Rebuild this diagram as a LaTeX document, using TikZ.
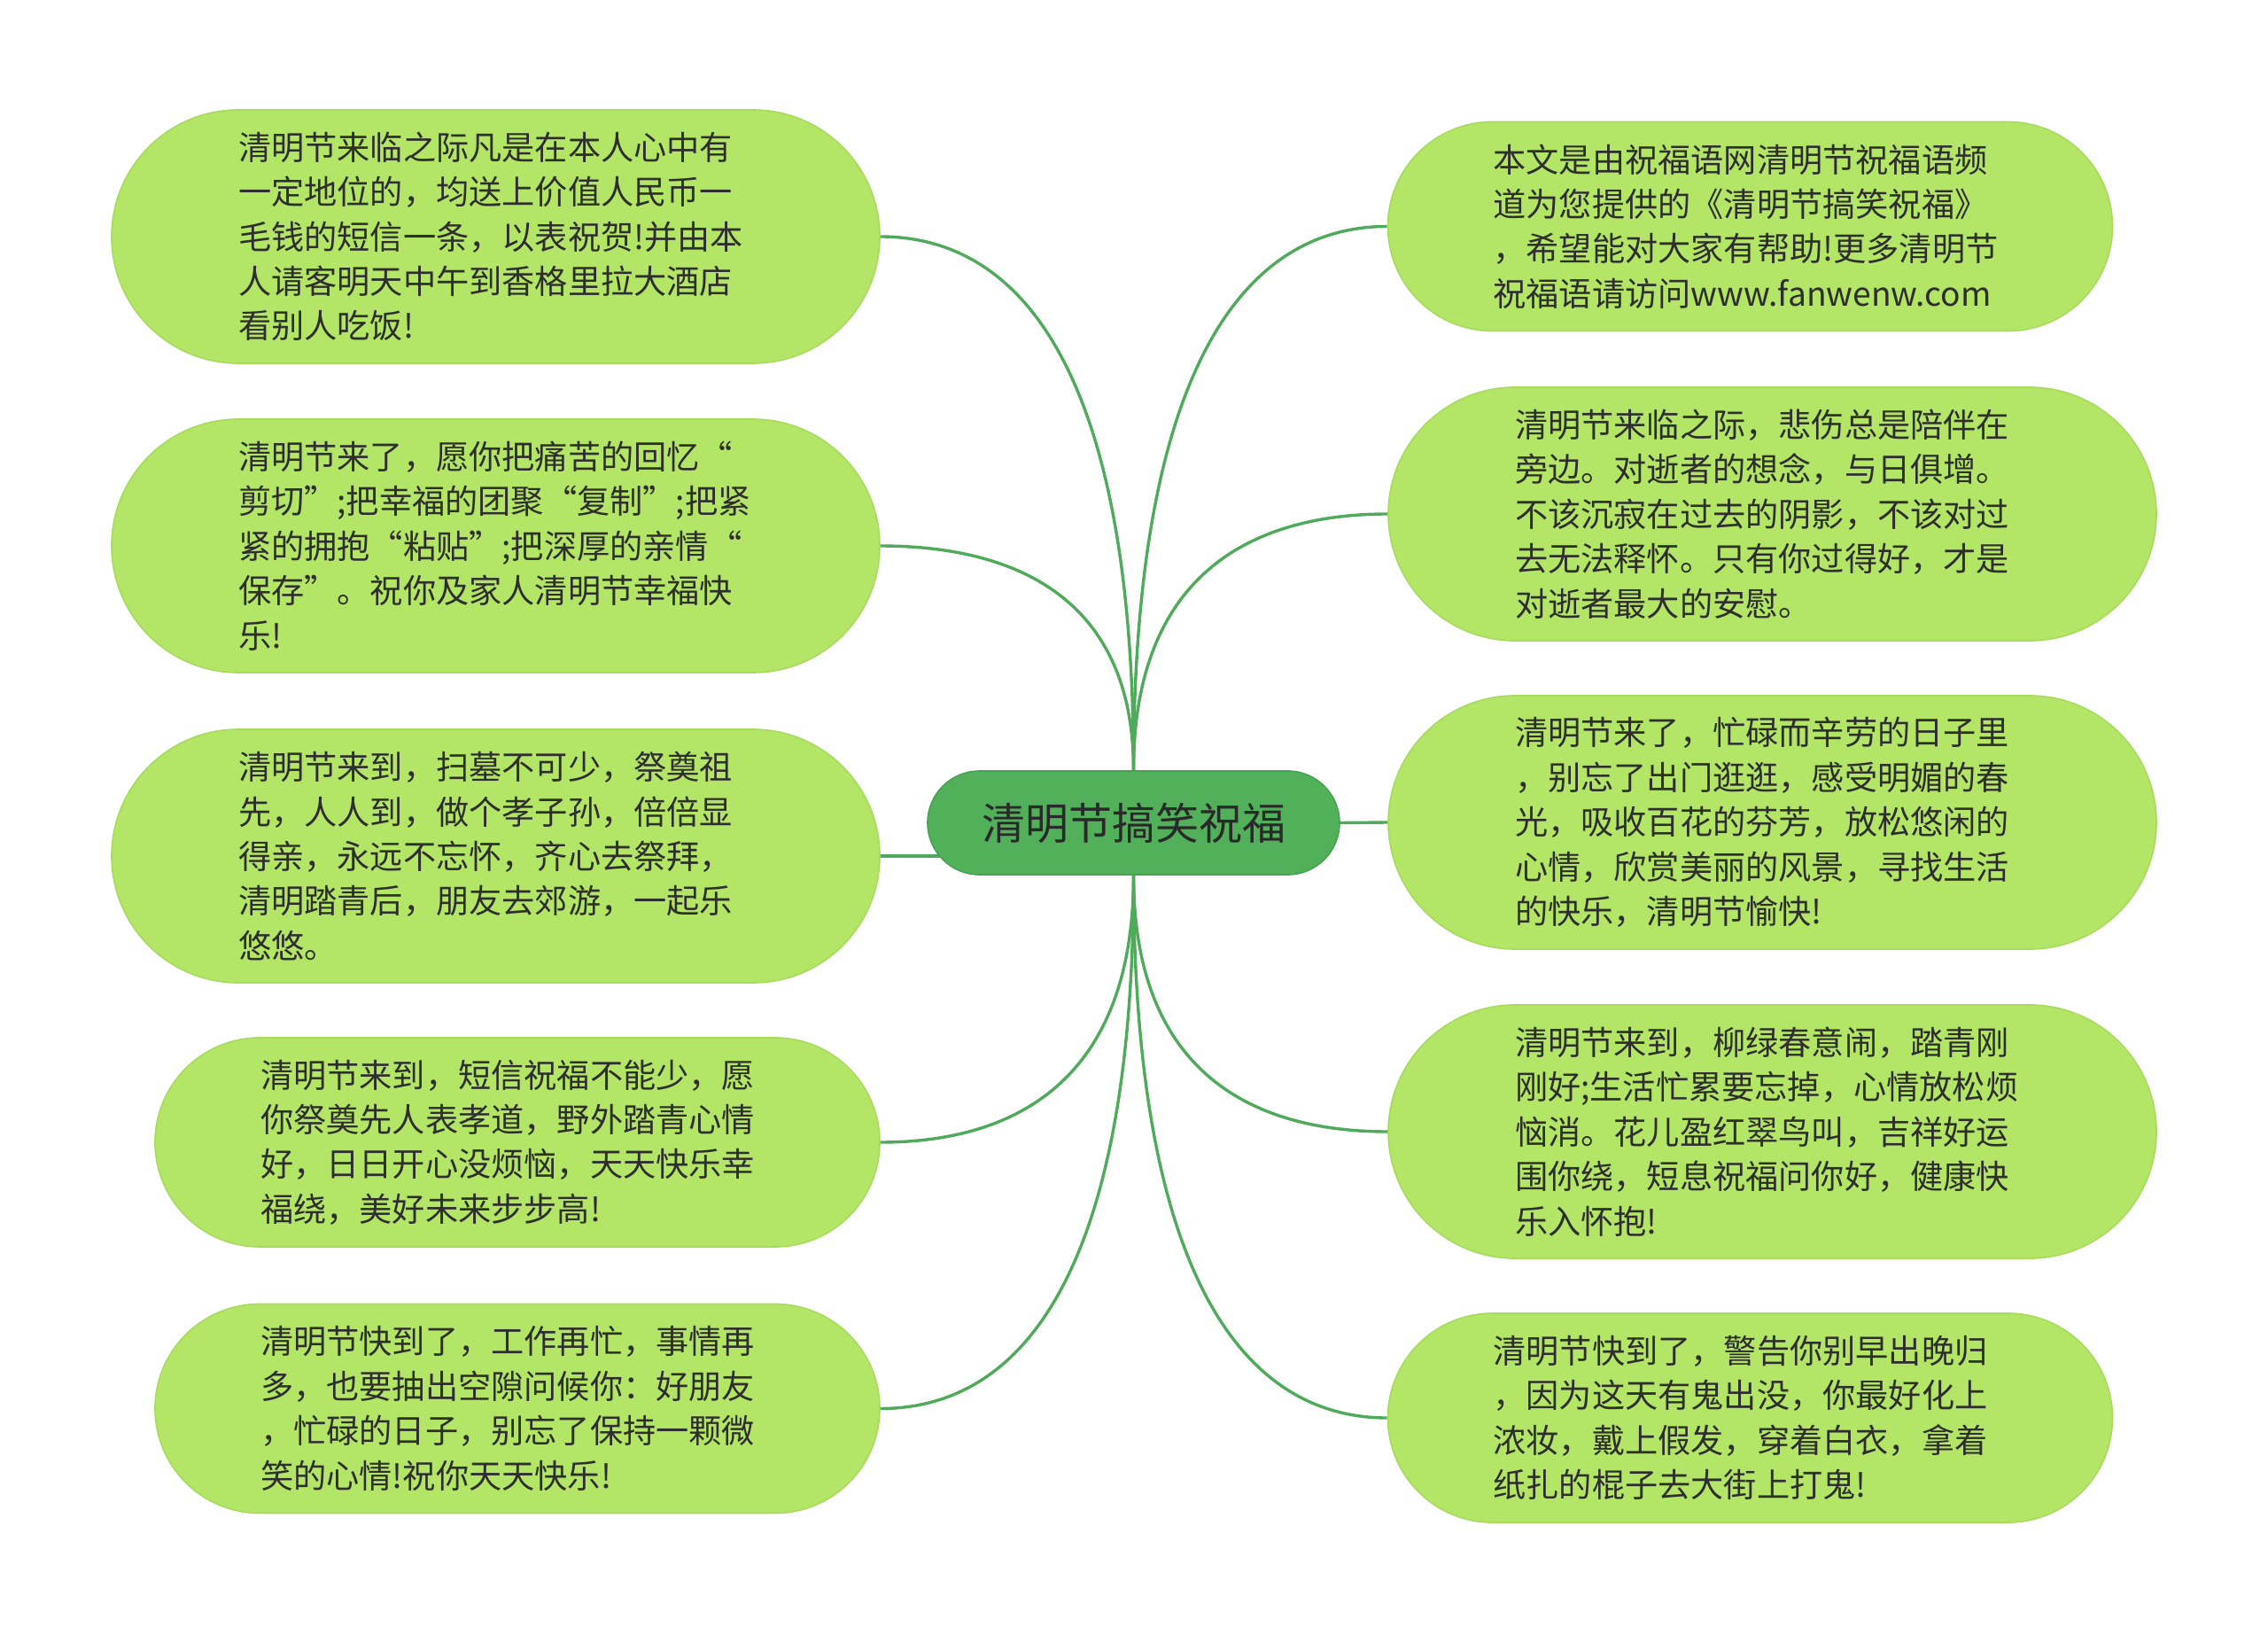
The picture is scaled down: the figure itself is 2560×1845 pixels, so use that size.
\documentclass[tikz,border=0pt]{standalone}
\usepackage{fontspec}
\setmainfont{Noto Sans CJK SC}
\usetikzlibrary{backgrounds}
\definecolor{leaffill}{HTML}{B3E566}
\definecolor{leafedge}{HTML}{A8DA5E}
\definecolor{rootfill}{HTML}{52B05B}
\definecolor{rootedge}{HTML}{47A351}
\definecolor{linkcol}{HTML}{4FAA5C}
\definecolor{txt}{HTML}{2E2E2E}
\begin{document}
\begin{tikzpicture}[x=0.5pt,y=-0.5pt,
  leafbig/.style={rectangle, rounded corners=71.5pt, fill=leaffill, draw=leafedge, line width=0.8pt,
    minimum width=433.5pt, minimum height=143pt, inner xsep=71.5pt, inner ysep=0pt,
    text width=290.5pt, align=left, text=txt, font=\fontsize{18.6pt}{25.2pt}\selectfont},
  leafsmall/.style={leafbig, rounded corners=59pt, minimum width=409pt, minimum height=118pt,
    inner xsep=59.5pt, text width=290pt},
  rootbox/.style={rectangle, rounded corners=29.25pt, fill=rootfill, draw=rootedge, line width=0.8pt,
    minimum width=232.5pt, minimum height=58.5pt, inner sep=0pt, text=txt!90!black,
    font=\fontsize{24.5pt}{30pt}\selectfont},
  link/.style={draw=linkcol, line width=1.7pt}
]
\useasboundingbox (0,0) rectangle (2560,1845);

\node[rootbox] (root) at (1279.5,928.5) {清明节搞笑祝福};

\node[leafbig] (L1) at (559.5,267) {清明节来临之际凡是在本人心中有\\一定地位的，均送上价值人民币一\\毛钱的短信一条，以表祝贺!并由本\\人请客明天中午到香格里拉大酒店\\看别人吃饭!};
\node[leafbig] (L2) at (559.5,616) {清明节来了，愿你把痛苦的回忆“\\剪切”;把幸福的团聚“复制”;把紧\\紧的拥抱“粘贴”;把深厚的亲情“\\保存”。祝你及家人清明节幸福快\\乐!};
\node[leafbig] (L3) at (559.5,966) {清明节来到，扫墓不可少，祭奠祖\\先，人人到，做个孝子孙，倍倍显\\得亲，永远不忘怀，齐心去祭拜，\\清明踏青后，朋友去郊游，一起乐\\悠悠。};
\node[leafsmall] (L4) at (584,1289) {清明节来到，短信祝福不能少，愿\\你祭奠先人表孝道，野外踏青心情\\好，日日开心没烦恼，天天快乐幸\\福绕，美好未来步步高!};
\node[leafsmall] (L5) at (584,1589.5) {清明节快到了，工作再忙，事情再\\多，也要抽出空隙问候你：好朋友\\，忙碌的日子，别忘了保持一颗微\\笑的心情!祝你天天快乐!};

\node[leafsmall] (R1) at (1975.5,255.5) {本文是由祝福语网清明节祝福语频\\道为您提供的《清明节搞笑祝福》\\，希望能对大家有帮助!更多清明节\\祝福语请访问www.fanwenw.com};
\node[leafbig] (R2) at (2000.5,580) {清明节来临之际，悲伤总是陪伴在\\旁边。对逝者的想念，与日俱增。\\不该沉寂在过去的阴影，不该对过\\去无法释怀。只有你过得好，才是\\对逝者最大的安慰。};
\node[leafbig] (R3) at (2000.5,928) {清明节来了，忙碌而辛劳的日子里\\，别忘了出门逛逛，感受明媚的春\\光，吸收百花的芬芳，放松悠闲的\\心情，欣赏美丽的风景，寻找生活\\的快乐，清明节愉快!};
\node[leafbig] (R4) at (2000.5,1277) {清明节来到，柳绿春意闹，踏青刚\\刚好;生活忙累要忘掉，心情放松烦\\恼消。花儿盈红翠鸟叫，吉祥好运\\围你绕，短息祝福问你好，健康快\\乐入怀抱!};
\node[leafsmall] (R5) at (1975.5,1600) {清明节快到了，警告你别早出晚归\\，因为这天有鬼出没，你最好化上\\浓妆，戴上假发，穿着白衣，拿着\\纸扎的棍子去大街上打鬼!};

\begin{scope}[on background layer]
  \fill[white] (0,0) rectangle (2560,1845);
  \draw[link] (root.north) .. controls +(0,-452) and +(158,0) .. (L1.east);
  \draw[link] (root.north) .. controls +(0,-190) and +(158,0) .. (L2.east);
  \draw[link] (L3.east) -- (L3.east -| root.center);
  \draw[link] (root.south) .. controls +(0,226) and +(158,0) .. (L4.east);
  \draw[link] (root.south) .. controls +(0,452) and +(158,0) .. (L5.east);
  \draw[link] (root.north) .. controls +(0,-460) and +(-158,0) .. (R1.west);
  \draw[link] (root.north) .. controls +(0,-217) and +(-158,0) .. (R2.west);
  \draw[link] (root.east) -- (R3.west);
  \draw[link] (root.south) .. controls +(0,218) and +(-158,0) .. (R4.west);
  \draw[link] (root.south) .. controls +(0,460) and +(-158,0) .. (R5.west);
\end{scope}
\end{tikzpicture}
\end{document}
